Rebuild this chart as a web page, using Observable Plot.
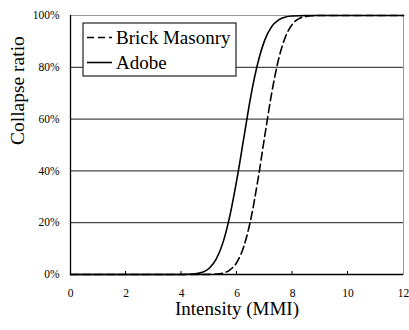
<!DOCTYPE html>
<html>
<head>
<meta charset="utf-8">
<script src="https://cdn.jsdelivr.net/npm/d3@7"></script>
<script src="https://cdn.jsdelivr.net/npm/@observablehq/plot@0.6"></script>
<style>
  html, body { margin: 0; padding: 0; background: #fff; }
  svg text { font-family: Liberation Serif, serif; }
</style>
</head>
<body>
<div id="chart"></div>
<script>
// Data
const seriesNames = ["Brick Masonry", "Adobe"];
const adobeMMI = [0, 4.0, 4.25, 4.5, 4.75, 5.0, 5.25, 5.5, 5.75, 6.0, 6.25, 6.5, 6.75, 7.0, 7.25, 7.5, 7.75, 8.0, 8.5, 12];
const adobeRatio = [0, 0.0002, 0.0007, 0.0026, 0.0087, 0.024, 0.059, 0.125, 0.23, 0.37, 0.53, 0.69, 0.816, 0.905, 0.957, 0.983, 0.9945, 0.998, 1, 1];
const brickMMI = [0, 4.75, 5.0, 5.25, 5.5, 5.75, 6.0, 6.25, 6.5, 6.75, 7.0, 7.25, 7.5, 7.75, 8.0, 8.25, 8.5, 8.75, 9.0, 12];
const brickRatio = [0, 0, 0.0003, 0.0014, 0.0055, 0.018, 0.048, 0.11, 0.215, 0.363, 0.535, 0.70, 0.832, 0.919, 0.967, 0.989, 0.9967, 0.9992, 1, 1];
const xTicks = [0, 2, 4, 6, 8, 10, 12];
const yTicks = [0, 0.2, 0.4, 0.6, 0.8, 1.0];
const xTitle = "Intensity (MMI)";
const yTitle = "Collapse ratio";

const adobe = adobeMMI.map((x, i) => ({x, y: adobeRatio[i]}));
const brick = brickMMI.map((x, i) => ({x, y: brickRatio[i]}));

const FONT = "Liberation Serif";

const chart = Plot.plot({
  width: 409,
  height: 330,
  marginLeft: 70,
  marginRight: 6,
  marginTop: 15,
  marginBottom: 56,
  style: {fontSize: "11.5px", fontFamily: FONT, color: "#000", background: "#fff"},
  x: {type: "linear", domain: [0, 12]},
  y: {type: "linear", domain: [0, 1]},
  marks: [
    Plot.frame({stroke: "#999", strokeWidth: 1}),
    Plot.gridY(yTicks.slice(1, -1), {stroke: "#000", strokeOpacity: 1, strokeWidth: 0.9}),
    Plot.line(brick, {x: "x", y: "y", stroke: "#000", strokeWidth: 1.6, strokeDasharray: "8,4", curve: "monotone-x"}),
    Plot.line(adobe, {x: "x", y: "y", stroke: "#000", strokeWidth: 1.6, curve: "monotone-x"}),
    Plot.ruleX([0], {stroke: "#000", strokeWidth: 1.3}),
    Plot.ruleY([0], {stroke: "#000", strokeWidth: 1.5}),
    Plot.axisY(yTicks, {tickSize: 0, tickPadding: 11, tickFormat: d => Math.round(d * 100) + "%", label: null, fontSize: 11.5}),
    Plot.axisX(xTicks, {tickSize: 0, tickPadding: 14, label: null, fontSize: 11.5}),
    Plot.text([xTitle], {frameAnchor: "bottom", dy: 40, fontSize: 19, text: d => d}),
    Plot.text([yTitle], {frameAnchor: "left", dx: -53, rotate: -90, fontSize: 19.5, text: d => d})
  ]
});
document.getElementById("chart").appendChild(chart);

const svg = d3.select(chart);
const xs = chart.scale("x"), ys = chart.scale("y");
// Small inward x ticks, positioned through the plot's own scales
const tg = svg.append("g");
xTicks.slice(1, -1).forEach(t => {
  tg.append("line").attr("x1", xs.apply(t)).attr("x2", xs.apply(t))
    .attr("y1", ys.apply(0)).attr("y2", ys.apply(0) - 3).attr("stroke", "#000").attr("stroke-width", 1);
});

// Legend box
const lg = svg.append("g").attr("text-anchor", "start");
lg.append("rect").attr("x", 83).attr("y", 23).attr("width", 153).attr("height", 53)
  .attr("fill", "#fff").attr("stroke", "#222").attr("stroke-width", 1.2);
const rows = [{name: seriesNames[0], dash: "7,4", y: 37.5}, {name: seriesNames[1], dash: null, y: 62.5}];
rows.forEach(r => {
  const l = lg.append("line").attr("x1", 87).attr("x2", 112).attr("y1", r.y).attr("y2", r.y)
    .attr("stroke", "#000").attr("stroke-width", 1.6);
  if (r.dash) l.attr("stroke-dasharray", r.dash);
  lg.append("text").attr("x", 116).attr("y", r.y).attr("dy", "0.35em")
    .attr("text-anchor", "start").attr("font-size", 19).attr("fill", "#000").text(r.name);
});

// Apply the serif font everywhere
svg.attr("font-family", FONT).style("font-family", FONT);
svg.selectAll("g").attr("font-family", FONT);
svg.selectAll("text").attr("font-family", FONT).style("font-family", FONT);
</script>
</body>
</html>
